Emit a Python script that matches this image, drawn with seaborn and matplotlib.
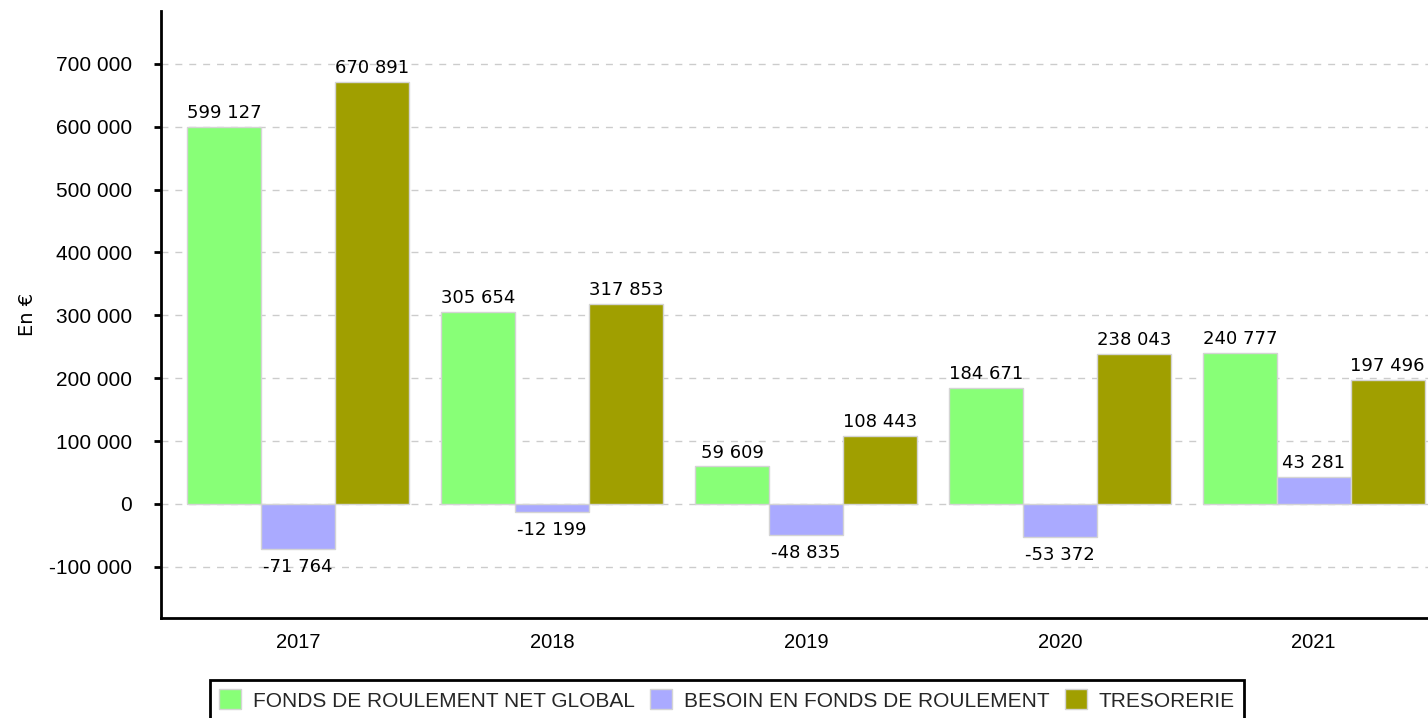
import matplotlib
matplotlib.use("Agg")
import matplotlib.pyplot as plt
import seaborn as sns
import pandas as pd

years = ["2017", "2018", "2019", "2020", "2021"]
series = ["FONDS DE ROULEMENT NET GLOBAL", "BESOIN EN FONDS DE ROULEMENT", "TRESORERIE"]
fr_ng = [599127, 305654, 59609, 184671, 240777]
bfr = [-71764, -12199, -48835, -53372, 43281]
treso = [670891, 317853, 108443, 238043, 197496]
colors = ["#88FF77", "#AAAAFF", "#A09F00"]
yticks = [-100000, 0, 100000, 200000, 300000, 400000, 500000, 600000, 700000]

rows = []
for name, vals in zip(series, [fr_ng, bfr, treso]):
    for y, v in zip(years, vals):
        rows.append({"year": y, "series": name, "value": v})
df = pd.DataFrame(rows)

sns.set_theme(style="white")
plt.rcParams["font.family"] = ["DejaVu Sans"]

fig = plt.figure(figsize=(14.28, 7.18), dpi=100)
ax = fig.add_axes([161/1428, 1 - 618/718, 1 - 161/1428, (618 - 11)/718])

sns.barplot(data=df, x="year", y="value", hue="series", hue_order=series,
            order=years, palette=colors, width=0.874, gap=0, errorbar=None,
            edgecolor="#d4d4d4", linewidth=1, saturation=1, ax=ax, zorder=3)

fmt = lambda v: f"{v:,.0f}".replace(",", " ")
for cont in ax.containers:
    hs = [b.get_height() for b in cont]
    ax.bar_label(cont, labels=[fmt(h) if h >= 0 else "" for h in hs],
                 padding=3.5, fontsize=13, color="black", family="DejaVu Sans")
    ax.bar_label(cont, labels=[fmt(h) if h < 0 else "" for h in hs],
                 padding=6.5, fontsize=13, color="black", family="DejaVu Sans")

ax.set_xlim(-0.54, 4.45)
ax.set_ylim(-181500, 784000)
ax.set_yticks(yticks)
ax.set_yticklabels([fmt(v) for v in yticks], fontsize=15, family="Liberation Sans", color="black")
for lbl in ax.get_xticklabels():
    lbl.set_fontsize(14.5)
    lbl.set_family("Liberation Sans")
    lbl.set_color("black")
ax.set_xlabel("")
ax.set_ylabel("En €", fontsize=14, color="black")
ax.yaxis.set_label_coords(-(161 - 37) / (1428 - 161), 0.5)

ax.grid(axis="y", linestyle=(0, (5, 5)), color="#cccccc", linewidth=1, zorder=0)
ax.set_axisbelow(True)
for s in ["top", "right"]:
    ax.spines[s].set_visible(False)
for s in ["left", "bottom"]:
    ax.spines[s].set_color("black")
    ax.spines[s].set_linewidth(2)
ax.tick_params(axis="y", direction="out", length=5, width=2, color="black", pad=16, left=True)
ax.tick_params(axis="x", length=0, pad=11)

handles, labels = ax.get_legend_handles_labels()
if ax.get_legend() is not None:
    ax.get_legend().remove()
leg = fig.legend(handles, labels, loc="center", bbox_to_anchor=(727/1428, 1 - 700/718),
                 ncol=3, frameon=True, fancybox=False, framealpha=1, edgecolor="black",
                 prop={"family": "Liberation Sans", "size": 15},
                 handlelength=1.05, handleheight=1.1, handletextpad=0.58,
                 columnspacing=0.72, borderpad=0.45, borderaxespad=0)
leg.get_frame().set_linewidth(2)

fig.savefig("out.png", dpi=100)
